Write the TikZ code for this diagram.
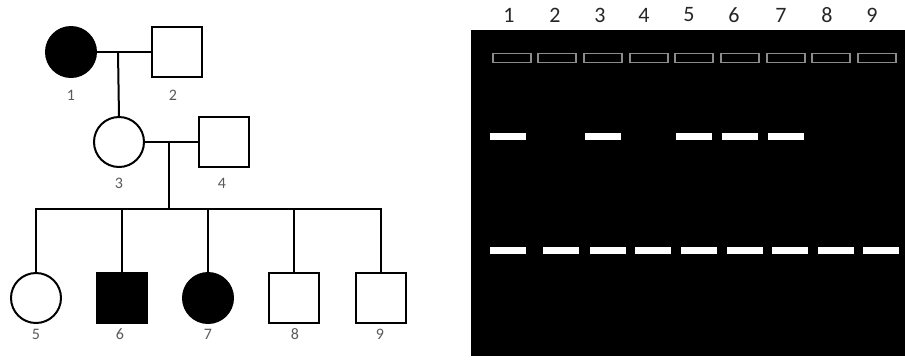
\documentclass[tikz,border=0pt]{standalone}
\usepackage{fontspec}
\setmainfont{Carlito}
\begin{document}
\begin{tikzpicture}[x=1pt,y=-1pt,
  person/.style={draw=black,line width=2pt,inner sep=0pt,outer sep=0pt,minimum size=50pt},
  female/.style={person,circle},
  male/.style={person,rectangle},
  affected/.style={fill=black},
  link/.style={draw=black,line width=2pt},
  plabel/.style={text=black!65,font=\fontsize{16}{16}\selectfont,inner sep=0pt},
  lanenum/.style={text=black!85,font=\fontsize{22}{22}\selectfont,inner sep=0pt},
  well/.style={draw=black!45,line width=1.3pt,fill=black,minimum width=38pt,minimum height=9pt,inner sep=0pt},
  band/.style={fill=white,draw=none,minimum width=36pt,minimum height=7pt,inner sep=0pt}]
\useasboundingbox (0,0) rectangle (905,360);
% pedigree
\node[female,affected] (p1) at (71,52) {};
\node[male] (p2) at (177,52) {};
\node[female] (p3) at (119,142) {};
\node[male] (p4) at (224,142) {};
\node[female] (p5) at (36,298) {};
\node[male,affected] (p6) at (122,298) {};
\node[female,affected] (p7) at (208,298) {};
\node[male] (p8) at (294,298) {};
\node[male] (p9) at (381,298) {};
\node[plabel] (l1) at (71,95) {1};
\node[plabel] (l2) at (173,95) {2};
\node[plabel] (l3) at (119,183) {3};
\node[plabel] (l4) at (222,183) {4};
\node[plabel] (l5) at (36,334) {5};
\node[plabel] (l6) at (120,334) {6};
\node[plabel] (l7) at (208,334) {7};
\node[plabel] (l8) at (295,334) {8};
\node[plabel] (l9) at (380,334) {9};
\coordinate (m1) at (118,52);
\coordinate (m2) at (169,142);
\coordinate (s0) at (169,209);
\coordinate (s5) at (36,209);
\coordinate (s6) at (122,209);
\coordinate (s7) at (208,209);
\coordinate (s8) at (294,209);
\coordinate (s9) at (381,209);
\draw[link] (p1.east) -- (p2.west);
\draw[link] (m1) -- (p3.north);
\draw[link] (p3.east) -- (p4.west);
\draw[link] (m2) -- (s0);
\draw[link,line cap=rect] (s5) -- (s9);
\draw[link] (s5) -- (p5.north);
\draw[link] (s6) -- (p6.north);
\draw[link] (s7) -- (p7.north);
\draw[link] (s8) -- (p8.north);
\draw[link] (s9) -- (p9.north);
% gel
\fill[black] (471,30) rectangle (905,356);
\foreach \i/\x in {1/509,2/555,3/600,4/644,5/689,6/734,7/781,8/827,9/872}{
  \node[lanenum] (n\i) at (\x,15) {\i};
}
\foreach \i/\x in {1/512,2/557,3/603,4/649,5/694,6/740,7/786,8/831,9/877}{
  \node[well] (w\i) at (\x,58) {};
}
\foreach \i/\x in {1/508,3/603,5/694,6/740,7/786}{
  \node[band] (u\i) at (\x,136.5) {};
}
\foreach \i/\x in {1/508,2/561,3/608,4/653,5/699,6/745,7/790,8/836,9/881}{
  \node[band] (b\i) at (\x,250) {};
}
\end{tikzpicture}
\end{document}
